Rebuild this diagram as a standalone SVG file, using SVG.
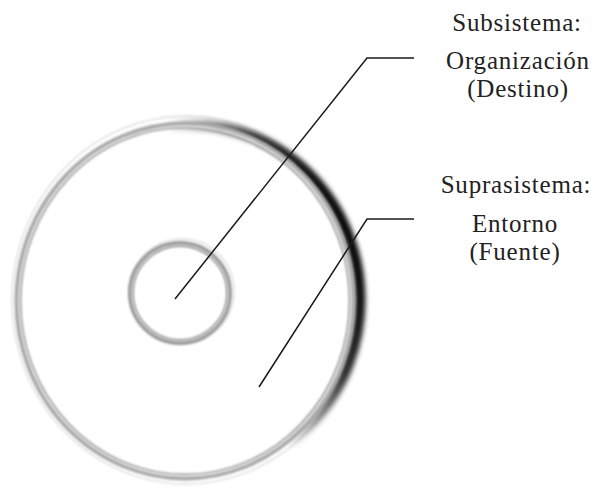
<svg xmlns="http://www.w3.org/2000/svg" width="601" height="489" viewBox="0 0 601 489">
<style>
.lbl{font-family:"Liberation Serif","DejaVu Serif",serif;font-size:25px;fill:#222;text-anchor:middle;letter-spacing:0.8px}
.con{fill:none;stroke:#1a1a1a;stroke-width:1.5}
</style>
<defs>
<filter id="soft" x="-20%" y="-20%" width="140%" height="140%"><feGaussianBlur stdDeviation="1.3"/></filter>
<filter id="shblur" x="-20%" y="-20%" width="140%" height="140%"><feGaussianBlur stdDeviation="2.5"/></filter>
<linearGradient id="shg" x1="0" y1="0.7" x2="1" y2="0.3">
<stop offset="0" stop-color="#000" stop-opacity="0"/>
<stop offset="0.6" stop-color="#000" stop-opacity="0"/>
<stop offset="0.82" stop-color="#000" stop-opacity="0.8"/>
<stop offset="1" stop-color="#000" stop-opacity="1"/>
</linearGradient>
</defs>
<rect width="601" height="489" fill="#fff"/>
<g id="suprasistema">
<ellipse cx="186" cy="300" rx="174" ry="184" fill="none" stroke="#ddd" stroke-width="1.5" filter="url(#soft)"/>
<ellipse cx="193" cy="300" rx="167" ry="175" fill="none" stroke="url(#shg)" stroke-width="11" filter="url(#shblur)"/>
<ellipse cx="185" cy="301" rx="167" ry="176" fill="none" stroke="#a8a8a8" stroke-width="7" filter="url(#soft)"/>
<ellipse cx="185" cy="301" rx="166" ry="175" fill="none" stroke="#f2f2f2" stroke-width="1.5" filter="url(#soft)"/>
</g>
<g id="subsistema">
<circle cx="182" cy="291" r="52" fill="none" stroke="#ddd" stroke-width="1.5" filter="url(#soft)"/>
<circle cx="180" cy="293" r="49" fill="none" stroke="#9a9a9a" stroke-width="6" filter="url(#soft)"/>
<circle cx="180" cy="293" r="48" fill="none" stroke="#eee" stroke-width="1.2" filter="url(#soft)"/>
</g>
<g id="connectors">
<path class="con" d="M175,299 L367,58 L414,58"/>
<path class="con" d="M259,387 L367,219 L414,219"/>
</g>
<g id="label-subsistema">
<text class="lbl" x="517" y="31">Subsistema:</text>
<text class="lbl" x="518" y="69">Organización</text>
<text class="lbl" x="518" y="97">(Destino)</text>
</g>
<g id="label-suprasistema">
<text class="lbl" x="516" y="193">Suprasistema:</text>
<text class="lbl" x="515" y="232">Entorno</text>
<text class="lbl" x="515" y="260">(Fuente)</text>
</g>
</svg>
